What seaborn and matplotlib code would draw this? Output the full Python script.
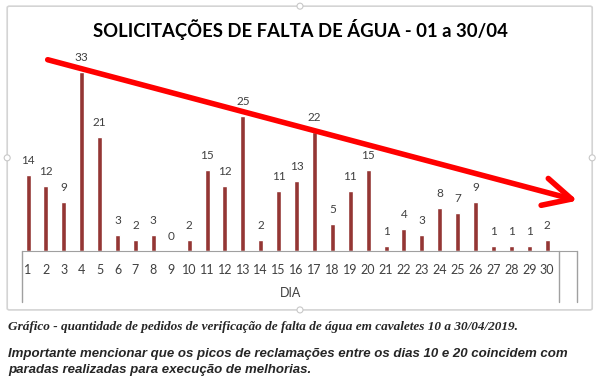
import pandas as pd
import seaborn as sns
import matplotlib.pyplot as plt
import matplotlib.transforms as mtransforms
from matplotlib.patches import FancyBboxPatch, Circle

dias = [str(d) for d in range(1, 31)]
pedidos = [14, 12, 9, 33, 21, 3, 2, 3, 0, 2, 15, 12, 25, 2, 11, 13, 22, 5, 11, 15,
           1, 4, 3, 8, 7, 9, 1, 1, 1, 2]
titulo = "SOLICITAÇÕES DE FALTA DE ÁGUA - 01 a 30/04"
rotulo_x = "DIA"
legenda1 = "Gráfico - quantidade de pedidos de verificação de falta de água em cavaletes 10 a 30/04/2019."
legenda2 = ("Importante mencionar que os picos de reclamações entre os dias 10 e 20 coincidem com\n"
            "paradas realizadas para execução de melhorias.")

df = pd.DataFrame({"dia": dias, "pedidos": pedidos})

sns.set_style("white")
plt.rcParams["font.family"] = ["Lato", "DejaVu Sans"]

fig = plt.figure(figsize=(6, 3.85), dpi=100)

# moldura do grafico
fig.patches.append(FancyBboxPatch((0.012, 0.195), 0.975, 0.789, boxstyle="round,pad=0,rounding_size=0.004",
                                  transform=fig.transFigure, fc="none", ec="#d4d4d4", lw=1.2, zorder=0))
for cx, cy in [(0.5, 0.984), (0.5, 0.195), (0.012, 0.59), (0.987, 0.59)]:
    fig.patches.append(Circle((cx * 600, cy * 385), 3, transform=None, fc="white", ec="#c8c8c8", lw=0.8))

ax = fig.add_axes([0.0367, 0.348, 0.925, 0.556])
ax.patch.set_alpha(0)
sns.barplot(data=df, x="dia", y="pedidos", color="#943634", saturation=1, width=0.28, ax=ax)
ax.bar_label(ax.containers[0], padding=6.5, fontsize=8.5, color="#404040")

ax.set_xlim(-0.335, 30.67)
ax.set_ylim(0, 39.5)
ax.set_yticks([])
ax.set_xlabel("")
ax.set_ylabel("")
for s in ["left", "right", "top"]:
    ax.spines[s].set_visible(False)
ax.spines["bottom"].set_color("#a0a0a0")
ax.tick_params(axis="x", length=0, pad=9, labelsize=9, labelcolor="#404040")

# linhas da tabela do eixo
trans = mtransforms.blended_transform_factory(ax.transData, ax.transAxes)
for xv in [-0.335, 29.66, 30.67]:
    ax.plot([xv, xv], [0, -0.238], transform=trans, color="#a0a0a0", lw=1, clip_on=False)

# seta de tendencia
ax.annotate("", xy=(30.7, 9.3), xytext=(1.1, 35.3),
            arrowprops=dict(arrowstyle="->,head_length=2.0,head_width=1.0", lw=4, color="#ff0000",
                            shrinkA=0, shrinkB=0),
            annotation_clip=False)

fig.text(0.5, 1 - 30 / 385, titulo, ha="center", va="center", fontsize=13.3, fontweight="bold", color="black")
fig.text(0.485, 1 - 293 / 385, rotulo_x, ha="center", va="center", fontsize=9, color="#404040")

fig.text(8 / 600, 1 - 327 / 385, legenda1, ha="left", va="center", fontsize=9.5,
         family="Liberation Serif", style="italic", fontweight="bold")
fig.text(8 / 600, 1 - 362 / 385, legenda2, ha="left", va="center", fontsize=9.5, linespacing=1.4,
         family="Liberation Sans", style="italic", fontweight="bold")

fig.savefig("out.png", dpi=100, facecolor="white")
